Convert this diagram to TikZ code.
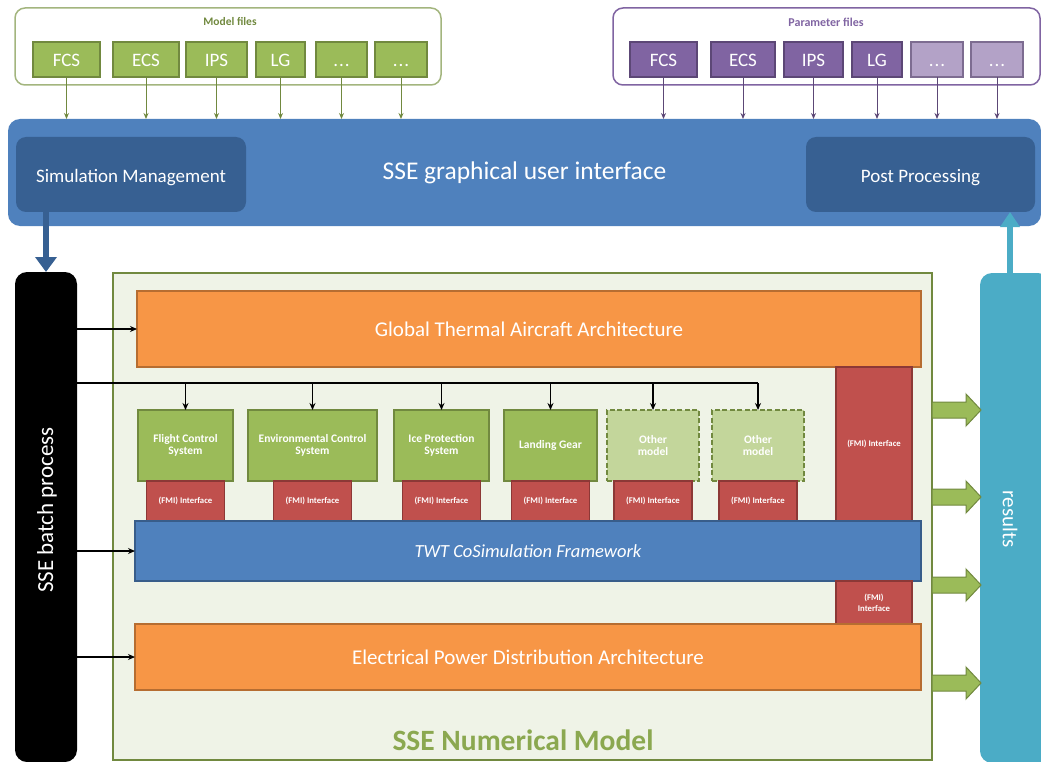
\documentclass[tikz,border=0pt]{standalone}
\usepackage{fontspec}
\setmainfont{Carlito}
\usetikzlibrary{arrows.meta,calc}
\definecolor{cgreen}{HTML}{9BBB59}
\definecolor{cgreenD}{HTML}{71893F}
\definecolor{clgreen}{HTML}{C3D69B}
\definecolor{cpurple}{HTML}{8064A2}
\definecolor{cpurpleD}{HTML}{5C4776}
\definecolor{clpurple}{HTML}{B3A2C7}
\definecolor{cred}{HTML}{C0504D}
\definecolor{credD}{HTML}{8C3836}
\definecolor{corange}{HTML}{F79646}
\definecolor{corangeD}{HTML}{B66D31}
\definecolor{cblue}{HTML}{4F81BD}
\definecolor{cblueD}{HTML}{385D8A}
\definecolor{cdblue}{HTML}{376092}
\definecolor{cteal}{HTML}{4BACC6}
\definecolor{cbg}{HTML}{EFF3E7}
\newcommand{\fs}[1]{\fontsize{#1}{#1}\selectfont}
\newcommand{\dotsx}{.\kern1pt.\kern1pt.}
\newcommand{\greenblock}[1]{%
  \fill[cgreen,draw=cgreenD,line width=1pt] (932,{#1-8}) -- (966,{#1-8}) -- (966,{#1-16}) -- (981,#1) -- (966,{#1+16}) -- (966,{#1+8}) -- (932,{#1+8}) -- cycle;}
\begin{document}
\begin{tikzpicture}[x=1pt,y=-1pt,
  box/.style={anchor=north west, inner sep=0pt, outer sep=0pt, text=white, align=center},
  mfile/.style={box, fill=cgreen, draw=cgreenD, line width=1.5pt, font=\fs{19}, text height=15pt, text depth=0pt},
  pfile/.style={box, fill=cpurple, draw=cpurpleD, line width=1.5pt, font=\fs{19}, text height=15pt, text depth=0pt},
  pfilel/.style={pfile, fill=clpurple, draw=cpurpleD!80},
  garrow/.style={draw=cgreenD, line width=1pt, -{Stealth[length=6pt,width=5pt]}},
  parrow/.style={draw=cpurpleD, line width=1pt, -{Stealth[length=6pt,width=5pt]}},
  barrow/.style={draw=black, line width=1.4pt, -{Stealth[length=7pt,width=6pt]}},
  model/.style={box, fill=cgreen, draw=cgreenD, line width=1.5pt, font=\fs{11.5}\bfseries},
  omodel/.style={model, fill=clgreen, dash pattern=on 5pt off 2.5pt},
  fmi/.style={box, anchor=north, fill=cred, draw=credD, line width=1.2pt, font=\fs{8.7}\bfseries},
  bigbar/.style={box, line width=1.2pt},
]
\useasboundingbox (0,0) rectangle (1041,762);

% Model files
\node[box, draw=cgreen!80!black!70, line width=1.5pt, rounded corners=10pt, minimum width=426pt, minimum height=77pt] (mfbox) at (15,8) {};
\node[text=cgreenD, font=\fs{11.5}\bfseries] at (230,22) {Model files};
\node[mfile, minimum width=67pt, minimum height=35pt] (m1) at (33,42) {FCS};
\node[mfile, minimum width=66pt, minimum height=35pt] (m2) at (113,42) {ECS};
\node[mfile, minimum width=61pt, minimum height=35pt] (m3) at (186,42) {IPS};
\node[mfile, minimum width=49pt, minimum height=35pt] (m4) at (256,42) {LG};
\node[mfile, minimum width=51pt, minimum height=35pt] (m5) at (316,42) {\dotsx};
\node[mfile, minimum width=52pt, minimum height=35pt] (m6) at (375,42) {\dotsx};

% Parameter files
\node[box, draw=cpurple, line width=1.5pt, rounded corners=10pt, minimum width=427pt, minimum height=77pt] (pfbox) at (613,8) {};
\node[text=cpurple, font=\fs{12}\bfseries] at (826,22) {Parameter files};
\node[pfile, minimum width=67pt, minimum height=35pt] (p1) at (630,42) {FCS};
\node[pfile, minimum width=64pt, minimum height=35pt] (p2) at (711,42) {ECS};
\node[pfile, minimum width=59pt, minimum height=35pt] (p3) at (784,42) {IPS};
\node[pfile, minimum width=50pt, minimum height=35pt] (p4) at (852,42) {LG};
\node[pfilel, minimum width=52pt, minimum height=35pt] (p5) at (911,42) {\dotsx};
\node[pfilel, minimum width=52pt, minimum height=35pt] (p6) at (971,42) {\dotsx};

% GUI bar
\node[box, fill=cblue, rounded corners=12pt, minimum width=1033pt, minimum height=107pt, font=\fs{25.5}] (gui) at (8,119) {SSE graphical user interface};
\node[box, fill=cdblue, rounded corners=10pt, minimum width=230pt, minimum height=75pt, font=\fs{19}, text height=16pt, text depth=0pt] (sim) at (16,137) {Simulation Management};
\node[box, fill=cdblue, rounded corners=10pt, minimum width=229pt, minimum height=75pt, font=\fs{19}, text height=16pt, text depth=0pt] (post) at (806,137) {Post Processing};

\foreach \i in {1,...,6} {
  \draw[garrow] (m\i.south) -- (m\i.south |- gui.north);
  \draw[parrow] (p\i.south) -- (p\i.south |- gui.north);
}

% batch process and results
\node[box, fill=black, rounded corners=12pt, minimum width=62pt, minimum height=490pt] (batch) at (15,272) {};
\node[rotate=90, text=white, font=\fs{23}] at (47,510) {SSE batch process};
\node[box, fill=cteal, rounded corners=12pt, minimum width=70pt, minimum height=490pt] (res) at (980,273) {};
\node[rotate=-90, text=white, font=\fs{21}] at (1010,519) {results};

\draw[cdblue, line width=6pt, -{Triangle[length=15pt,width=21pt]}] (batch.north |- sim.south) -- (batch.north);
\coordinate (rtop) at (1010,273);
\draw[cteal, line width=6pt, -{Triangle[length=15pt,width=19pt]}] (rtop) -- (rtop |- post.south);

% Numerical model
\node[box, fill=cbg, draw=cgreenD, line width=1.5pt, minimum width=819pt, minimum height=487pt] (num) at (113,273) {};
\node[text=cgreen!90!black, font=\fs{29.5}\bfseries] at (523,740) {SSE Numerical Model};

\node[bigbar, fill=corange, draw=corangeD, minimum width=784pt, minimum height=76pt, font=\fs{21}] (gtaa) at (137,291) {Global Thermal Aircraft Architecture};
\node[box, fill=cred, draw=credD, line width=1.2pt, minimum width=76pt, minimum height=154pt, font=\fs{8.7}\bfseries] (fmiR) at (836,367) {(FMI) Interface};

% Models
\coordinate (bus) at (0,383);
\node[model, minimum width=95pt, minimum height=71pt] (a1) at (138,410) {Flight Control\\System};
\node[model, minimum width=129pt, minimum height=71pt] (a2) at (248,410) {Environmental Control\\System};
\node[model, minimum width=95pt, minimum height=71pt] (a3) at (394,410) {Ice Protection\\System};
\node[model, minimum width=93pt, minimum height=71pt] (a4) at (504,410) {Landing Gear};
\node[omodel, minimum width=92pt, minimum height=71pt] (a5) at (607,410) {Other\\model};
\node[omodel, minimum width=92pt, minimum height=71pt] (a6) at (712,410) {Other\\model};

\draw[line width=1.4pt] (batch.east |- bus) -- (a6.north |- bus);
\foreach \i in {1,...,6} {
  \draw[barrow] (a\i.north |- bus) -- (a\i.north);
  \node[fmi, minimum width=78pt, minimum height=40pt] (f\i) at (a\i.south) {(FMI) Interface};
}

\node[bigbar, fill=cblue, draw=cblueD, minimum width=786pt, minimum height=60pt, font=\fs{18.5}\itshape] (twt) at (135,521) {TWT CoSimulation Framework};
\node[box, fill=cred, draw=credD, line width=1.2pt, minimum width=76pt, minimum height=43pt, font=\fs{8.7}\bfseries] (fmiL) at (836,581) {(FMI)\\[2pt]Interface};
\node[bigbar, fill=corange, draw=corangeD, minimum width=786pt, minimum height=66pt, font=\fs{21}] (epda) at (135,624) {Electrical Power Distribution Architecture};

\draw[barrow] (batch.east |- gtaa.west) -- (gtaa.west);
\draw[barrow] (batch.east |- twt.west) -- (twt.west);
\draw[barrow] (batch.east |- epda.west) -- (epda.west);

% output block arrows
\greenblock{410}
\greenblock{497}
\greenblock{585}
\greenblock{683}
\end{tikzpicture}
\end{document}
